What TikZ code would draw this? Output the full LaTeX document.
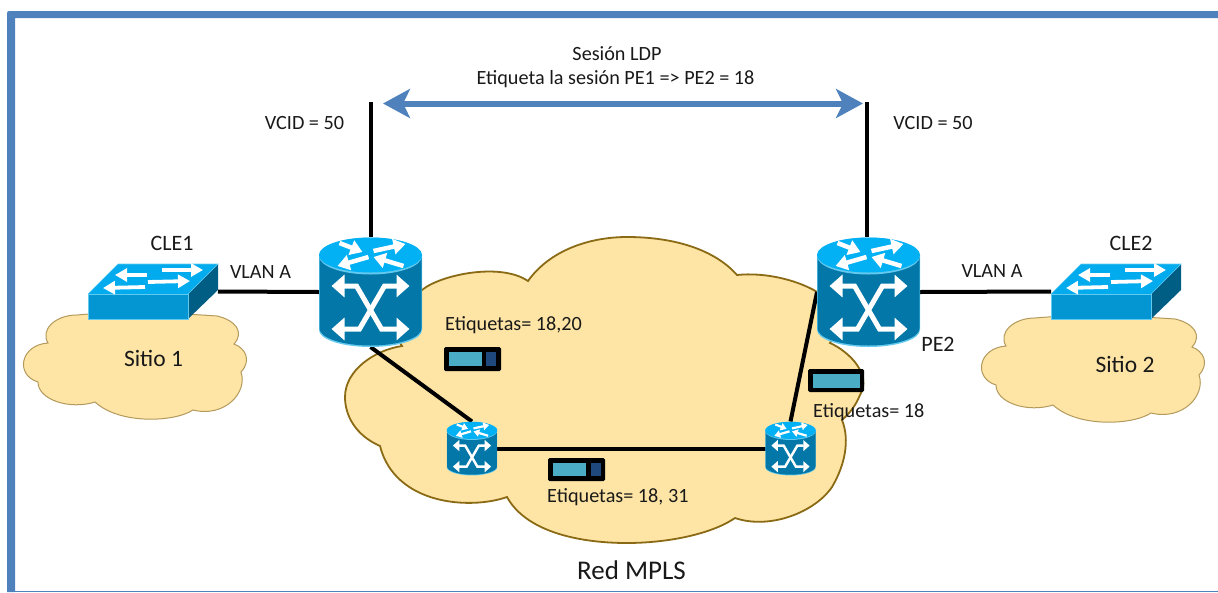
\documentclass[tikz,border=0pt]{standalone}
\usepackage{fontspec}
\setmainfont{Carlito}
\usetikzlibrary{arrows.meta}
\definecolor{frameblue}{HTML}{4F81BD}
\definecolor{cloudfill}{HTML}{FEE5A5}
\definecolor{cloudedge}{HTML}{8A6A14}
\definecolor{cloudthin}{HTML}{B39A5C}
\definecolor{rbody}{HTML}{0277A8}
\definecolor{rtop}{HTML}{02B0F4}
\definecolor{rrim}{HTML}{63C9EE}
\definecolor{sfront}{HTML}{0495D3}
\definecolor{stop}{HTML}{02ABEE}
\definecolor{sside}{HTML}{005E85}
\definecolor{tagteal}{HTML}{4BACC6}
\definecolor{tagdark}{HTML}{1F497D}
\tikzset{
  lbl/.style={inner sep=0pt,font=\fontsize{20.2}{24}\selectfont,text=black!90,align=center},
  lblbig/.style={lbl,font=\fontsize{22}{26}\selectfont},
  lblsitio/.style={lbl,font=\fontsize{23.5}{28}\selectfont},
  lblleft/.style={lbl,anchor=west},
  iconbox/.style={inner sep=0pt,outer sep=0pt,rectangle},
  link/.style={line width=4pt,black},
  bigarrow/.style={line width=6pt,frameblue,{Stealth[length=27pt,width=29pt,inset=7pt]}-{Stealth[length=27pt,width=29pt,inset=7pt]}},
  bigcloud/.style={fill=cloudfill,draw=cloudedge,line width=1.8pt},
  smallcloud/.style={fill=cloudfill,draw=cloudthin,line width=1pt},
  tagframe/.style={fill=black,rounded corners=1.5pt},
}
% cx, cy, scale
\newcommand{\routericon}[3]{%
 \begin{scope}[shift={(#1,#2)},scale=#3]
  \fill[rrim] (-51.5,-37) -- (-51.5,38) arc[start angle=180,end angle=0,x radius=51.5,y radius=17] -- (51.5,-37) -- cycle;
  \fill[rbody] (-51,-37) -- (-51,36.5) arc[start angle=180,end angle=0,x radius=51,y radius=17] -- (51,-37) -- cycle;
  \fill[rrim] (0,-36) ellipse[x radius=51.5,y radius=18.5];
  \fill[rtop] (0,-37) ellipse[x radius=51.5,y radius=17.5];
  \begin{scope}[white,line width={#3*5pt},
     every path/.append style={{Triangle[length=13pt,width=22pt,scale=#3]}-{Triangle[length=13pt,width=22pt,scale=#3]}}]
   \draw (-39,-6) -- (-14,-6) -- (11,37) -- (39,37);
   \draw (39,-6) -- (14,-6) -- (-11,37) -- (-39,37);
  \end{scope}
  \begin{scope}[white,line width={#3*4.5pt},
     every path/.append style={-{Triangle[length=12pt,width=15pt,scale=#3]}}]
   \draw (-31,-49) -- (-8,-40);
   \draw (3,-41) -- (35,-48);
   \draw (-2,-35) -- (-33,-26);
   \draw (33,-26) -- (3,-35);
  \end{scope}
 \end{scope}}
% front-left-top corner x, y
\newcommand{\switchicon}[2]{%
 \begin{scope}[shift={(#1,#2)}]
  \fill[sside] (100,0) -- (130,-30) -- (130,-4) -- (100,25) -- cycle;
  \fill[stop] (0,0) -- (30,-30) -- (130,-30) -- (100,0) -- cycle;
  \fill[sfront] (0,0) rectangle (100,25);
  \draw[rrim,line width=.8pt] (0,25) -- (0,0) -- (100,0) -- (100,25) -- cycle;
  \draw[rrim,line width=.6pt] (0,0) -- (30,-30) -- (130,-30) -- (100,0);
  \begin{scope}[white,line width=3.8pt,
     every path/.append style={-{Triangle[length=12pt,width=13pt]}}]
   \draw (59,-19) -- (27,-19);
   \draw (74,-24) -- (115,-24);
   \draw (57,-7) -- (15,-6);
   \draw (60,-12) -- (102,-13);
  \end{scope}
 \end{scope}}
\newcommand{\sitiocloud}[2]{%
 \draw[smallcloud,shift={(#1,#2)}]
  (48,343) .. controls (40,330) and (55,315) .. (77,315)
  .. controls (120,311) and (175,313) .. (217,316)
  .. controls (235,320) and (245,332) .. (234,344)
  .. controls (245,348) and (252,360) .. (241,372)
  .. controls (248,392) and (225,418) .. (193,410)
  .. controls (175,422) and (120,425) .. (95,402)
  .. controls (70,410) and (38,400) .. (38,382)
  .. controls (15,375) and (20,345) .. (48,343) -- cycle;}
\begin{document}
\begin{tikzpicture}[x=1pt,y=-1pt]
\useasboundingbox (0,0) rectangle (1218,592);
% frame
\fill[frameblue] (1218,11) -- (9,11) .. controls (7.5,11) and (7,12) .. (7,14) -- (7,592) -- (15,592) -- (15,18) -- (1218,18) -- cycle;
\fill[frameblue] (15,590.6) rectangle (1218,592);
% clouds
\sitiocloud{0}{0}
\sitiocloud{958}{3}
\draw[bigcloud] (528,281) .. controls (550,250) and (590,237) .. (627,237)
  .. controls (675,237) and (715,250) .. (737,275)
  .. controls (765,272) and (800,280) .. (822,295)
  .. controls (838,305) and (840,325) .. (830,343)
  .. controls (850,352) and (872,375) .. (860,395)
  .. controls (856,405) and (850,413) .. (842,420)
  .. controls (850,440) and (845,465) .. (832,487)
  .. controls (815,512) and (770,530) .. (735,518)
  .. controls (710,535) and (665,543) .. (627,543)
  .. controls (575,543) and (525,530) .. (507,497)
  .. controls (470,510) and (395,505) .. (380,446)
  .. controls (355,435) and (345,415) .. (345,397)
  .. controls (345,370) and (375,350) .. (402,346)
  .. controls (390,330) and (400,305) .. (422,290)
  .. controls (440,275) and (500,262) .. (528,281) -- cycle;
% icon anchors
\node[iconbox,minimum width=103pt,minimum height=110pt] (pe1) at (370.5,292) {};
\node[iconbox,minimum width=103pt,minimum height=110pt] (pe2) at (868.5,292) {};
\node[iconbox,minimum width=50pt,minimum height=54pt] (r1) at (472,448.5) {};
\node[iconbox,minimum width=50pt,minimum height=54pt] (r2) at (790.5,448.5) {};
\node[iconbox,minimum width=130pt,minimum height=55pt] (cle1) at (153,291.5) {};
\node[iconbox,minimum width=130pt,minimum height=55pt] (cle2) at (1116,291.5) {};
\coordinate (top1) at (371,102);
\coordinate (top2) at (867,102);
\coordinate (arrL) at (383,103.5);
\coordinate (arrR) at (863,103.5);
% links
\draw[link] (top1) -- (top1 |- pe1.north);
\draw[link] (top2) -- (top2 |- pe2.north);
\draw[link] (cle1.east) -- (pe1.west);
\draw[link] (pe2.east) -- (cle2.west);
\draw[link] (pe1.south) -- (r1.north);
\draw[link] (r1.east) -- (r2.west);
\draw[link] (r2.north) -- (pe2.west);
\draw[bigarrow] (arrL) -- (arrR);
% icons
\routericon{370.5}{292}{1}
\routericon{868.5}{292}{1}
\routericon{472}{448.5}{0.49}
\routericon{790.5}{448.5}{0.49}
\switchicon{88}{294}
\switchicon{1051}{294}
% tags
\fill[tagframe] (444,347) rectangle (501,371);
\fill[tagteal] (449,352) rectangle (482,366);
\fill[tagdark] (486,352) rectangle (496,366);
\fill[tagframe] (548,458) rectangle (605,481);
\fill[tagteal] (553,463) rectangle (586,476);
\fill[tagdark] (591,463) rectangle (601,476);
\fill[tagframe] (808,369) rectangle (864,392);
\fill[tagteal] (813,374) rectangle (860,388);
% labels
\node[lbl] (t1) at (617,54) {Sesión LDP};
\node[lbl] (t2) at (615.5,79.5) {Etiqueta la sesión PE1 => PE2 = 18};
\node[lbl] (v1) at (304.5,123) {VCID = 50};
\node[lbl] (v2) at (933,123) {VCID = 50};
\node[lblbig] (c1) at (172,243) {CLE1};
\node[lblbig] (c2) at (1131,243) {CLE2};
\node[lbl] (va1) at (260.5,272.5) {VLAN A};
\node[lbl] (va2) at (992,271.5) {VLAN A};
\node[lblsitio] (s1) at (153.5,358) {Sitio 1};
\node[lblsitio] (s2) at (1125,364) {Sitio 2};
\node[lblbig] (p2) at (938,344) {PE2};
\node[lblleft] (e1) at (445,325) {Etiquetas= 18,20};
\node[lblleft] (e2) at (813,412) {Etiquetas= 18};
\node[lblleft] (e3) at (547,497) {Etiquetas= 18, 31};
\node[lbl,font=\fontsize{27}{30}\selectfont] (m) at (631.5,570) {Red MPLS};
\end{tikzpicture}
\end{document}
